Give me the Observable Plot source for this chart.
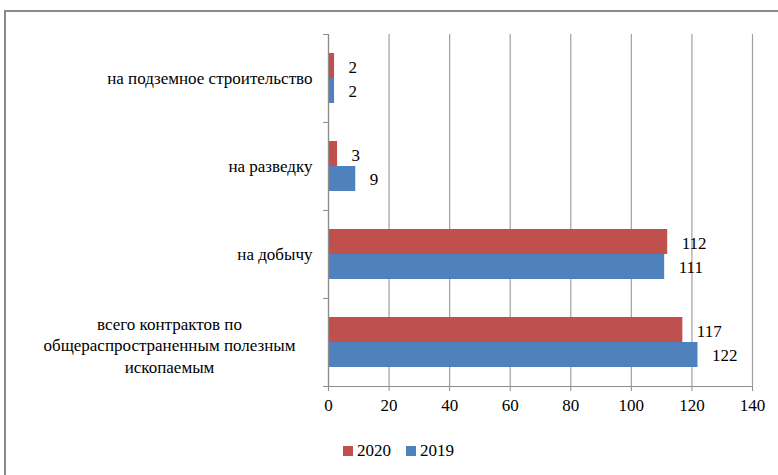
<!DOCTYPE html>
<html><head><meta charset="utf-8">
<script src="https://cdn.jsdelivr.net/npm/d3@7"></script>
<script src="https://cdn.jsdelivr.net/npm/@observablehq/plot@0.6"></script>
<style>
html,body{margin:0;padding:0;background:#fff;overflow:hidden;}
body{width:778px;height:475px;position:relative;font-family:"Liberation Serif","Times New Roman",Tinos,"DejaVu Serif",serif;}
#frame{position:absolute;left:4px;top:10px;width:820px;height:520px;border-left:2px solid #8a8a8a;border-top:2px solid #8a8a8a;box-sizing:border-box;pointer-events:none;}
#chart{position:absolute;left:0;top:0;}
#legend{position:absolute;top:441px;left:343px;font-size:17px;display:flex;align-items:center;color:#000;line-height:20px;}
#legend .sw{display:inline-block;width:10px;height:10px;margin-right:4px;}
#legend .item{display:flex;align-items:center;margin-right:15px;}
#chart svg, #chart svg text{font-family:"Liberation Serif","Times New Roman",Tinos,"DejaVu Serif",serif !important;}
</style>
</head><body>
<div id="chart"></div>
<div id="legend"></div>
<div id="frame"></div>
<script>
const categories = [
  "на подземное строительство",
  "на разведку",
  "на добычу",
  "всего контрактов по\nобщераспространенным полезным\nископаемым"
];
const seriesNames = ["2020", "2019"];
const values2020 = [2, 3, 112, 117];
const values2019 = [2, 9, 111, 122];
const xTicks = [0, 20, 40, 60, 80, 100, 120, 140];
const colors = ["#C0504D", "#4F81BD"];

const rows2020 = categories.map((c, i) => ({category: c, series: seriesNames[0], value: values2020[i]}));
const rows2019 = categories.map((c, i) => ({category: c, series: seriesNames[1], value: values2019[i]}));

const serif = "'Liberation Serif', 'Times New Roman', Tinos, 'DejaVu Serif', serif";
const gray = "#8c8c8c";
const fs = 17;
const chart = Plot.plot({
  width: 778, height: 430,
  marginLeft: 328, marginRight: 26, marginTop: 34, marginBottom: 44,
  style: {fontFamily: serif, fontSize: fs + "px", color: "#000", background: "transparent"},
  x: {domain: [0, 140], ticks: xTicks, label: null},
  y: {domain: categories, padding: 0, axis: null},
  marks: [
    Plot.gridX(xTicks, {stroke: "#a0a0a0", strokeOpacity: 1, strokeWidth: 1.2}),
    Plot.barX(rows2020, {x: "value", y: "category", fill: colors[0], insetTop: 19, insetBottom: 44}),
    Plot.barX(rows2019, {x: "value", y: "category", fill: colors[1], insetTop: 44, insetBottom: 19}),
    Plot.ruleX([0], {stroke: gray, strokeWidth: 1.2}),
    Plot.ruleY(categories.slice(-1), {y: d => d, x1: 0, x2: 140, dy: 44, stroke: gray, strokeWidth: 1.2}),
    Plot.ruleY(categories, {y: d => d, x1: 0, x2: 0, dy: -44, insetLeft: -5, stroke: gray}),
    Plot.ruleY(categories.slice(-1), {y: d => d, x1: 0, x2: 0, dy: 44, insetLeft: -5, stroke: gray}),
    Plot.axisX({ticks: xTicks, tickSize: 5, tickPadding: 7, stroke: gray, fontSize: fs, label: null}),
    Plot.text(rows2020, {x: "value", y: "category", text: d => String(d.value), dx: 14, dy: -11, textAnchor: "start", fontSize: fs, fill: "#000"}),
    Plot.text(rows2019, {x: "value", y: "category", text: d => String(d.value), dx: 14, dy: 13, textAnchor: "start", fontSize: fs, fill: "#000"}),
    Plot.text(categories.filter(c => !c.includes("\n")), {y: d => d, text: d => d, frameAnchor: "left", textAnchor: "end", dx: -16, fontSize: fs, fill: "#000"}),
    Plot.text(categories.filter(c => c.includes("\n")), {y: d => d, text: d => d, frameAnchor: "left", textAnchor: "middle", dx: -159, dy: 2, lineHeight: 1.27, fontSize: fs, fill: "#000"})
  ]
});
document.getElementById("chart").appendChild(chart);

const legend = document.getElementById("legend");
seriesNames.forEach((s, i) => {
  const item = document.createElement("span");
  item.className = "item";
  const sw = document.createElement("span");
  sw.className = "sw";
  sw.style.background = colors[i];
  item.appendChild(sw);
  item.appendChild(document.createTextNode(s));
  legend.appendChild(item);
});
</script>
</body></html>
